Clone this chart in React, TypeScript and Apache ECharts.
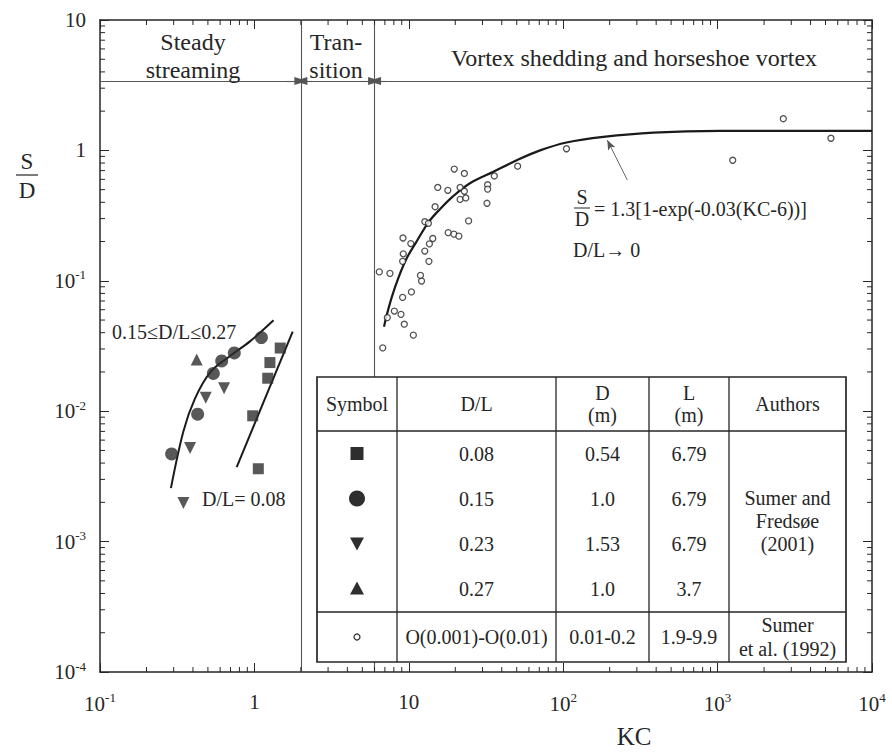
import React, { useEffect, useRef } from 'react';
import * as echarts from 'echarts';

const FONT = '"Liberation Serif", "Times New Roman", Times, serif';
const INK = '#262626';
const MARK = '#2e2e2e';

// ---- axes ----
const kcMin = 0.1;
const kcMax = 10000;
const sdMin = 0.0001;
const sdMax = 10;
const kcMajorTicks = [0.1, 1, 10, 100, 1000, 10000];
const sdMajorTicks = [0.0001, 0.001, 0.01, 0.1, 1, 10];
const minorMantissas = [2, 3, 4, 5, 6, 7, 8, 9];

// ---- regime boundaries ----
const regimeBoundsKC = [2, 6];
const regimeTopSD = 3.4;
const regimeArrowsKC = [
  [1.62, 2],
  [2.36, 2],
  [4.9, 6],
  [7.18, 6],
];

// ---- Sumer & Fredsoe (2001), D/L = 0.08 (squares) ----
const kcSquare = [1.47, 1.26, 1.22, 0.975, 1.06];
const sdSquare = [0.0305, 0.0236, 0.0179, 0.00922, 0.00362];

// ---- D/L = 0.15 (circles) ----
const kcCircle = [0.291, 0.429, 0.542, 0.614, 0.741, 1.11];
const sdCircle = [0.0047, 0.00948, 0.0195, 0.0243, 0.028, 0.0367];

// ---- D/L = 0.23 (down triangles) ----
const kcTriDown = [0.484, 0.636, 0.383, 0.347];
const sdTriDown = [0.0127, 0.015, 0.00521, 0.00198];

// ---- D/L = 0.27 (up triangles) ----
const kcTriUp = [0.423];
const sdTriUp = [0.0249];

// ---- Sumer et al. (1992), open circles ----
const kcSumer92 = [
  19.7, 22.9, 15.4, 17.9, 21.5, 22.9, 21.5, 23.4, 32.4, 32.4, 32.1, 35.8, 50.7,
  14.8, 12.7, 13.4, 24.4, 18.0, 19.6, 21.1, 9.17, 10.3, 14.3, 13.6, 12.7, 9.21,
  9.12, 13.5, 6.44, 7.55, 11.9, 12.1, 10.4, 9.12, 8.06, 8.9, 7.26, 9.35, 10.7,
  6.78, 105, 2665, 1253, 5420,
];
const sdSumer92 = [
  0.719, 0.666, 0.52, 0.494, 0.52, 0.486, 0.421, 0.432, 0.545, 0.505, 0.393,
  0.637, 0.757, 0.37, 0.284, 0.276, 0.288, 0.234, 0.228, 0.22, 0.213, 0.193,
  0.211, 0.192, 0.169, 0.161, 0.141, 0.141, 0.117, 0.114, 0.11, 0.0995, 0.0822,
  0.0746, 0.0586, 0.0553, 0.0522, 0.0465, 0.0383, 0.0306, 1.03, 1.75, 0.84, 1.24,
];

// ---- fitted curves ----
const kcFitThick = [0.288, 0.347, 0.412, 0.516, 0.695, 0.936, 1.33];
const sdFitThick = [0.00257, 0.00703, 0.0125, 0.0198, 0.0265, 0.0343, 0.0498];
const kcFitThin = [0.768, 1.77];
const sdFitThin = [0.00373, 0.0408];
const kcFitLive = [
  6.91, 7.19, 7.75, 8.55, 9.69, 11.2, 13.4, 15.9, 19.4, 24.9, 35.3, 50.0, 70.8,
  105, 182, 384, 1037, 10000,
];
const sdFitLive = [
  0.0445, 0.0543, 0.0746, 0.105, 0.149, 0.199, 0.281, 0.354, 0.446, 0.56, 0.686,
  0.84, 1.0, 1.15, 1.27, 1.37, 1.41, 1.41,
];
const eqArrowFrom = [260, 0.594];
const eqArrowTo = [193, 1.2];

// ---- table ----
const tableHeader = ['Symbol', 'D/L', 'D\n(m)', 'L\n(m)', 'Authors'];
const tableDL = ['0.08', '0.15', '0.23', '0.27'];
const tableD = ['0.54', '1.0', '1.53', '1.0'];
const tableL = ['6.79', '6.79', '6.79', '3.7'];
const tableLastRow = ['O(0.001)-O(0.01)', '0.01-0.2', '1.9-9.9'];
const tableAuthors1 = 'Sumer and\nFredsøe\n(2001)';
const tableAuthors2 = 'Sumer\net al. (1992)';

const zip = (a: number[], b: number[]) => a.map((v, i) => [v, b[i]]);

const expLabel = (v: number) => {
  const e = Math.round(Math.log10(v));
  if (e === 0) return '1';
  if (e === 1) return '10';
  return `{b|10}{s|${e}}`;
};

const labelRich = {
  b: { fontFamily: FONT, fontSize: 21, color: INK },
  s: { fontFamily: FONT, fontSize: 13, color: INK, padding: [0, 0, 12, 0] },
};

export default function App() {
  const ref = useRef<HTMLDivElement>(null);

  useEffect(() => {
    if (!ref.current) return;
    const chart = echarts.init(ref.current, undefined, { renderer: 'svg' });

    const minorKC: number[] = [];
    kcMajorTicks.slice(0, -1).forEach((d) => minorMantissas.forEach((m) => minorKC.push(m * d)));
    const minorSD: number[] = [];
    sdMajorTicks.slice(0, -1).forEach((d) => minorMantissas.forEach((m) => minorSD.push(m * d)));

    const txt = (text: string, x: number, y: number, size: number, align = 'center', extra: any = {}) => ({
      type: 'text',
      x,
      y,
      z: 120,
      silent: true,
      style: {
        text,
        fill: INK,
        fontFamily: FONT,
        fontSize: size,
        align,
        verticalAlign: 'middle',
        ...extra,
      },
    });
    const ln = (x1: number, y1: number, x2: number, y2: number, w = 1.3) => ({
      type: 'line',
      z: 110,
      silent: true,
      shape: { x1, y1, x2, y2 },
      style: { stroke: INK, lineWidth: w },
    });

    // table layout
    const colX = [317, 397, 556, 649, 729, 846];
    const tTop = 377;
    const tHead = 431;
    const rowH = 45;
    const tDiv = 612;
    const tBot = 662;
    const colC = colX.slice(0, -1).map((x, i) => (x + colX[i + 1]) / 2);
    const rowC = tableDL.map((_, i) => tHead + rowH * (i + 0.5));
    const lastC = (tDiv + tBot) / 2;

    const tableEls: any[] = [
      {
        type: 'rect',
        z: 100,
        silent: true,
        shape: { x: colX[0], y: tTop, width: colX[5] - colX[0], height: tBot - tTop },
        style: { fill: '#fff', stroke: INK, lineWidth: 1.7 },
      },
      ln(colX[0], tHead, colX[5], tHead),
      ln(colX[0], tDiv, colX[5], tDiv),
      ...colX.slice(1, -1).map((x) => ln(x, tTop, x, tBot)),
      ...tableHeader.map((h, i) => txt(h, colC[i], (tTop + tHead) / 2, 20, 'center', { lineHeight: 22 })),
      ...tableDL.map((t, i) => txt(t, colC[1], rowC[i], 20)),
      ...tableD.map((t, i) => txt(t, colC[2], rowC[i], 20)),
      ...tableL.map((t, i) => txt(t, colC[3], rowC[i], 20)),
      txt(tableAuthors1, colC[4], (rowC[1] + rowC[2]) / 2, 20, 'center', { lineHeight: 23 }),
      ...tableLastRow.map((t, i) => txt(t, colC[i + 1], lastC, 20)),
      txt(tableAuthors2, colC[4], lastC, 20, 'center', { lineHeight: 24 }),
      // symbols
      {
        type: 'rect',
        z: 120,
        silent: true,
        shape: { x: colC[0] - 6.5, y: rowC[0] - 6.5, width: 13, height: 13 },
        style: { fill: MARK },
      },
      {
        type: 'circle',
        z: 120,
        silent: true,
        shape: { cx: colC[0], cy: rowC[1], r: 8 },
        style: { fill: MARK },
      },
      {
        type: 'polygon',
        z: 120,
        silent: true,
        shape: { points: [[colC[0] - 7, rowC[2] - 6], [colC[0] + 7, rowC[2] - 6], [colC[0], rowC[2] + 7]] },
        style: { fill: MARK },
      },
      {
        type: 'polygon',
        z: 120,
        silent: true,
        shape: { points: [[colC[0] - 7, rowC[3] + 6], [colC[0] + 7, rowC[3] + 6], [colC[0], rowC[3] - 7]] },
        style: { fill: MARK },
      },
      {
        type: 'circle',
        z: 120,
        silent: true,
        shape: { cx: colC[0], cy: lastC, r: 3 },
        style: { fill: '#fff', stroke: INK, lineWidth: 1.2 },
      },
    ];

    const annotEls: any[] = [
      // y axis name as fraction
      txt('S', 27, 161, 23),
      ln(16, 175, 38, 175, 1.2),
      txt('D', 27, 190, 23),
      // regime labels
      txt('Steady', 193, 42, 24),
      txt('streaming', 193, 70, 24),
      txt('Tran-', 336, 42, 24),
      txt('sition', 336, 70, 24),
      txt('Vortex shedding and horseshoe vortex', 634, 58, 24),
      // fit labels
      txt('0.15≤D/L≤0.27', 112, 332, 20, 'left'),
      txt('D/L= 0.08', 202, 499, 20, 'left'),
      // equation
      txt('S', 582, 197, 20),
      ln(574, 208, 590, 208, 1),
      txt('D', 582, 219, 20),
      txt('= 1.3[1-exp(-0.03(KC-6))]', 594, 209, 20, 'left'),
      txt('D/L→ 0', 573, 250, 20, 'left'),
    ];

    const minorTickSeries = (axis: 'x' | 'y', values: number[]) => ({
      type: 'custom',
      silent: true,
      clip: false,
      z: 5,
      data: values.map((v) => (axis === 'x' ? [v, 1] : [1, v])),
      renderItem: (params: any, api: any) => {
        const cs = params.coordSys;
        const len = 5;
        if (axis === 'x') {
          const p = api.coord([api.value(0), 1]);
          return {
            type: 'group',
            children: [
              { type: 'line', shape: { x1: p[0], y1: cs.y + cs.height, x2: p[0], y2: cs.y + cs.height - len }, style: { stroke: INK, lineWidth: 1 } },
              { type: 'line', shape: { x1: p[0], y1: cs.y, x2: p[0], y2: cs.y + len }, style: { stroke: INK, lineWidth: 1 } },
            ],
          };
        }
        const p = api.coord([1, api.value(1)]);
        return {
          type: 'group',
          children: [
            { type: 'line', shape: { x1: cs.x, y1: p[1], x2: cs.x + len, y2: p[1] }, style: { stroke: INK, lineWidth: 1 } },
            { type: 'line', shape: { x1: cs.x + cs.width, y1: p[1], x2: cs.x + cs.width - len, y2: p[1] }, style: { stroke: INK, lineWidth: 1 } },
          ],
        };
      },
    });

    const axisCommon = {
      type: 'log',
      logBase: 10,
      splitLine: { show: false },
      axisLine: { show: true, onZero: false, lineStyle: { color: INK, width: 1.5 } },
      axisTick: { show: true, inside: true, length: 9, lineStyle: { color: INK, width: 1 } },
    };

    const option: any = {
      animation: false,
      backgroundColor: '#ffffff',
      grid: { left: 100, right: 20, top: 20, bottom: 68, containLabel: false },
      xAxis: [
        {
          ...axisCommon,
          min: kcMin,
          max: kcMax,
          position: 'bottom',
          name: 'KC',
          nameLocation: 'middle',
          nameGap: 52,
          nameTextStyle: { fontFamily: FONT, fontSize: 25, color: INK, padding: [0, 0, 0, 296] },
          axisLabel: { margin: 19, formatter: expLabel, rich: labelRich, fontFamily: FONT, fontSize: 21, color: INK },
        },
        {
          ...axisCommon,
          min: kcMin,
          max: kcMax,
          position: 'top',
          axisLabel: { show: false },
        },
      ],
      yAxis: [
        {
          ...axisCommon,
          min: sdMin,
          max: sdMax,
          position: 'left',
          axisLabel: { margin: 14, formatter: expLabel, rich: labelRich, fontFamily: FONT, fontSize: 21, color: INK },
        },
        {
          ...axisCommon,
          min: sdMin,
          max: sdMax,
          position: 'right',
          axisLabel: { show: false },
        },
      ],
      series: [
        minorTickSeries('x', minorKC),
        minorTickSeries('y', minorSD),
        {
          name: 'Sumer and Fredsøe (2001), D/L=0.08',
          type: 'scatter',
          symbol: 'rect',
          symbolSize: 11,
          itemStyle: { color: MARK },
          data: zip(kcSquare, sdSquare),
          z: 6,
        },
        {
          name: 'Sumer and Fredsøe (2001), D/L=0.15',
          type: 'scatter',
          symbol: 'circle',
          symbolSize: 13,
          itemStyle: { color: MARK },
          data: zip(kcCircle, sdCircle),
          z: 6,
        },
        {
          name: 'Sumer and Fredsøe (2001), D/L=0.23',
          type: 'scatter',
          symbol: 'triangle',
          symbolRotate: 180,
          symbolSize: 12,
          itemStyle: { color: MARK },
          data: zip(kcTriDown, sdTriDown),
          z: 6,
        },
        {
          name: 'Sumer and Fredsøe (2001), D/L=0.27',
          type: 'scatter',
          symbol: 'triangle',
          symbolSize: 12,
          itemStyle: { color: MARK },
          data: zip(kcTriUp, sdTriUp),
          z: 6,
        },
        {
          name: 'Sumer et al. (1992)',
          type: 'scatter',
          symbol: 'circle',
          symbolSize: 6,
          itemStyle: { color: '#ffffff', borderColor: INK, borderWidth: 1.3 },
          data: zip(kcSumer92, sdSumer92),
          z: 6,
        },
        {
          name: 'fit 0.15-0.27',
          type: 'line',
          smooth: 0.35,
          showSymbol: false,
          lineStyle: { color: '#1a1a1a', width: 2 },
          data: zip(kcFitThick, sdFitThick),
          z: 5,
        },
        {
          name: 'fit 0.08',
          type: 'line',
          showSymbol: false,
          lineStyle: { color: '#1a1a1a', width: 2 },
          data: zip(kcFitThin, sdFitThin),
          z: 5,
        },
        {
          name: 'S/D = 1.3[1-exp(-0.03(KC-6))]',
          type: 'line',
          smooth: 0.35,
          showSymbol: false,
          lineStyle: { color: '#1a1a1a', width: 2.2 },
          data: zip(kcFitLive, sdFitLive),
          z: 5,
          markLine: {
            silent: true,
            symbol: ['none', 'none'],
            label: { show: false },
            lineStyle: { color: '#555', width: 1.1, type: 'solid' },
            emphasis: { disabled: true },
            data: [
              ...regimeBoundsKC.map((v) => ({ xAxis: v })),
              { yAxis: regimeTopSD },
              ...regimeArrowsKC.map(([a, b]) => [
                { coord: [a, regimeTopSD], symbol: 'none' },
                { coord: [b, regimeTopSD], symbol: 'triangle', symbolSize: [8, 13], itemStyle: { color: '#333' } },
              ]),
              [
                { coord: eqArrowFrom, symbol: 'none', lineStyle: { width: 0.9, color: '#555' } },
                { coord: eqArrowTo, symbol: 'arrow', symbolSize: [6, 10] },
              ],
            ],
          },
        },
      ],
      graphic: [...tableEls, ...annotEls],
    };

    chart.setOption(option);
    return () => chart.dispose();
  }, []);

  return (
    <div
      ref={ref}
      style={{ position: 'fixed', left: 0, top: 0, width: 892, height: 754, background: '#fff' }}
    />
  );
}
